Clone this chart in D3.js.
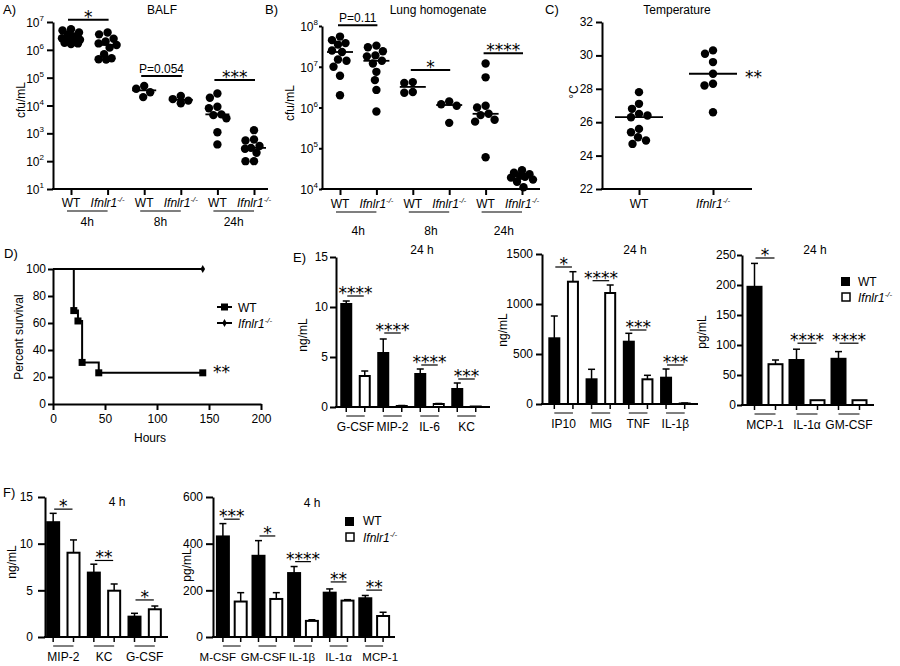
<!DOCTYPE html>
<html><head><meta charset="utf-8">
<script src="https://cdn.jsdelivr.net/npm/d3@7"></script>
<style>body{margin:0;background:#fff}svg{display:block}</style>
</head><body>
<script>
// ================= DATA =================
const dotGroups = ["WT 4h","KO 4h","WT 8h","KO 8h","WT 24h","KO 24h"];
const timeLabels = ["4h","8h","24h"];

// A) BALF cfu/mL
const balfWT4h  = [5.5e6,5.0e6,4.2e6,3.6e6,3.0e6,2.6e6,2.3e6,2.1e6,1.9e6,1.8e6,1.7e6,1.6e6];
const balfKO4h  = [4.2e6,3.6e6,2.5e6,2.0e6,1.7e6,1.5e6,1.2e6,7e5,5e5,4.6e5,4.5e5];
const balfWT8h  = [5.0e4,4.0e4,3.0e4,2.0e4];
const balfKO8h  = [2.2e4,1.7e4,1.5e4,1.2e4];
const balfWT24h = [2.7e4,1.9e4,9e3,8e3,4.8e3,4.5e3,3.5e3,1.1e3,4e2];
const balfKO24h = [1.3e3,6e2,5.5e2,3.5e2,3e2,2.8e2,2e2,1e2,1e2];
const balfTicks = [1e1,1e2,1e3,1e4,1e5,1e6,1e7];
const balfSigText  = ["*","P=0.054","***"];
const balfSigLevel = [1.2e7,1.15e5,8.3e4];

// B) Lung homogenate cfu/mL
const lungWT4h  = [5.5e7,4.5e7,3.8e7,3.5e7,2.5e7,2.3e7,1.5e7,1.4e7,1.0e7,6e6,2e6];
const lungKO4h  = [3.3e7,3.0e7,2.4e7,1.9e7,1.8e7,1.4e7,1.2e7,7.5e6,4.7e6,2.7e6,8e5];
const lungWT8h  = [4.2e6,4.0e6,2.4e6,2.3e6];
const lungKO8h  = [1.4e6,1.2e6,1.1e6,4.2e5];
const lungWT24h = [1.2e7,5.5e6,1.1e6,1.0e6,7e5,6.5e5,5e5,4.5e5,6e4];
const lungKO24h = [2.9e4,2.5e4,2.3e4,2.1e4,2.0e4,1.9e4,1.7e4,1.5e4,1.1e4];
const lungTicks = [1e4,1e5,1e6,1e7,1e8];
const lungSigText  = ["P=0.11","*","****"];
const lungSigLevel = [1.05e8,8.3e6,2.15e7];

// C) Temperature °C
const tempGroups = ["WT","KO"];
const tempWT = [27.8,27.1,26.8,26.5,26.4,26.3,25.6,25.4,25.1,24.9,24.7];
const tempKO = [30.3,30.1,29.6,28.9,28.3,28.2,26.6];
const tempTicks = [22,24,26,28,30,32];

// D) Survival
const survTimeWT = [0,20,24,28,44,144];
const survWT     = [100,69.2,61.5,30.8,23.1,23.1];
const survTimeKO = [0,144];
const survKO     = [100,100];
const survXTicks = [0,50,100,150,200];
const survYTicks = [0,20,40,60,80,100];

// E) 24 h cytokines
const e1Cats = ["G-CSF","MIP-2","IL-6","KC"];
const e1WT = [10.3,5.4,3.3,1.8];   const e1WTErr = [0.3,1.4,0.5,0.6];
const e1KO = [3.1,0.1,0.3,0.05];   const e1KOErr = [0.5,0.05,0.05,0];
const e1Sig = ["****","****","****","***"]; const e1SigLevel = [11.1,7.4,4.2,2.8];
const e1Ticks = [0,5,10,15];

const e2Cats = ["IP10","MIG","TNF","IL-1β"];
const e2WT = [657,247,623,263];    const e2WTErr = [223,100,84,87];
const e2KO = [1223,1110,247,5];    const e2KOErr = [100,80,40,5];
const e2Sig = ["*","****","***","***"]; const e2SigLevel = [1370,1233,740,390];
const e2Ticks = [0,500,1000,1500];

const e3Cats = ["MCP-1","IL-1α","GM-CSF"];
const e3WT = [197,75,77];          const e3WTErr = [39,18,12];
const e3KO = [68,8,8];             const e3KOErr = [7,0,0];
const e3Sig = ["*","****","****"]; const e3SigLevel = [245,103,103];
const e3Ticks = [0,50,100,150,200,250];

// F) 4 h cytokines
const f1Cats = ["MIP-2","KC","G-CSF"];
const f1WT = [12.3,6.9,2.18];      const f1WTErr = [0.95,0.9,0.36];
const f1KO = [9.03,4.96,2.97];     const f1KOErr = [1.37,0.72,0.35];
const f1Sig = ["*","**","*"];      const f1SigLevel = [13.7,8.2,3.97];
const f1Ticks = [0,5,10,15];

const f2Cats = ["M-CSF","GM-CSF","IL-1β","IL-1α","MCP-1"];
const f2WT = [431,348,274,190,166]; const f2WTErr = [55,65,28,16,12];
const f2KO = [152,163,69,156,90];   const f2KOErr = [38,27,5,4,16];
const f2Sig = ["***","*","****","**","**"]; const f2SigLevel = [505,433,323,236,201];
const f2Ticks = [0,200,400,600];

// ================= DRAW =================
const FONT = '"Liberation Sans", Arial, Helvetica, sans-serif';
const STARFONT = '"DejaVu Sans", sans-serif';
const svg = d3.select("body").append("svg").attr("width",900).attr("height",666)
  .style("font-family",FONT);

function label(x,y,s,size=12,anchor="start"){
  return svg.append("text").attr("x",x).attr("y",y).attr("font-size",size)
    .attr("text-anchor",anchor).attr("fill","#000").text(s);
}
function vlabel(cx,cy,s,size=12){
  return svg.append("text").attr("transform",`translate(${cx},${cy}) rotate(-90)`)
    .attr("text-anchor","middle").attr("dy","0.35em").attr("font-size",size).text(s);
}
function koLabel(x,y,anchor="middle",size=12){
  const t=svg.append("text").attr("x",x).attr("y",y).attr("font-size",size)
    .attr("text-anchor",anchor).attr("font-style","italic");
  t.append("tspan").text("Ifnlr1");
  t.append("tspan").attr("font-size",size*0.65).attr("dy",-size*0.4).text("-/-");
  return t;
}
function hline(x1,x2,y,w=1.5){
  svg.append("line").attr("x1",x1).attr("x2",x2).attr("y1",y).attr("y2",y)
    .attr("stroke","#000").attr("stroke-width",w);
}
function sig(x1,x2,yl,s,lw=1.5){
  hline(x1,x2,yl,lw);
  const star=/^\*+$/.test(s);
  svg.append("text").attr("x",(x1+x2)/2).attr("y",star?yl+3:yl-3)
    .attr("text-anchor","middle").attr("font-size",star?17:12)
    .style("font-family",star?STARFONT:FONT).text(s);
}
// beeswarm offsets limited to +-maxOff (dots may overlap when crowded)
function beeswarm(ys,minD,maxOff){
  const placed=[],offs=new Array(ys.length);
  const order=ys.map((y,i)=>i).sort((a,b)=>ys[a]-ys[b]);
  for(const i of order){
    let best=0,bestScore=-Infinity;
    for(let k=0;;k++){
      const c=(k%2===1?-1:1)*Math.ceil(k/2)*0.5;
      if(Math.abs(c)>maxOff)break;
      const md=placed.length?Math.min(...placed.map(p=>Math.hypot(p.x-c,p.y-ys[i]))):Infinity;
      if(md>=minD){best=c;break;}
      if(md>bestScore+0.3){bestScore=md;best=c;}
    }
    offs[i]=best;placed.push({x:best,y:ys[i]});
  }
  return offs;
}
function styleAxis(g){
  g.attr("font-size",12).attr("font-family",FONT);
  g.selectAll("path,line").attr("stroke-width",2);
}

function dotPanel(o){
  const y=o.y, x=d3.scalePoint().domain(o.groups).range(o.xRange);
  svg.append("g").attr("transform",`translate(${o.axisX},0)`)
    .call(d3.axisLeft(y).tickValues(o.ticks).tickSize(o.tickLen).tickSizeOuter(0).tickFormat(""))
    .call(styleAxis);
  hline(o.axisX-1,o.xEnd,o.y0,2);
  svg.append("g").attr("transform",`translate(0,${o.y0})`)
    .call(d3.axisBottom(x).tickSize(6).tickFormat(""))
    .call(g=>g.select(".domain").remove()).call(styleAxis);
  o.ticks.forEach(v=>o.tickLabel(v,y(v)));
  o.values.forEach((vals,i)=>{
    const cx=x(o.groups[i]);
    const offs=beeswarm(vals.map(v=>y(v)),8.4,o.maxOff);
    svg.append("g").selectAll("circle").data(vals).join("circle")
      .attr("cx",(d,j)=>cx+offs[j]).attr("cy",d=>y(d)).attr("r",4.2).attr("fill","#000");
    hline(cx-o.medHalf,cx+o.medHalf,y(d3.median(vals)),1.8);
  });
  return x;
}

function logTick(axisX,endGap){
  return (v,py)=>{
    const t=svg.append("text").attr("x",axisX-endGap).attr("y",py+5)
      .attr("text-anchor","end").attr("font-size",12);
    t.append("tspan").text("10");
    t.append("tspan").attr("font-size",8).attr("dy",-6).text(Math.round(Math.log10(v)));
  };
}

// ---- Panel A ----
label(3,14,"A)",13);
label(162,14,"BALF",12,"middle");
vlabel(21,100,"cfu/mL");
{
  const y=d3.scaleLog().domain([10,1e7]).range([189,22]);
  const x=dotPanel({y,groups:dotGroups,xRange:[71,254],axisX:53,xEnd:268,y0:189,
    ticks:balfTicks,tickLen:6,tickLabel:logTick(53,9),medHalf:12,maxOff:9,
    values:[balfWT4h,balfKO4h,balfWT8h,balfKO8h,balfWT24h,balfKO24h]});
  timeLabels.forEach((t,i)=>{
    const a=x(dotGroups[2*i]),b=x(dotGroups[2*i+1]);
    label(a,207,"WT",12,"middle"); koLabel(b,207);
    hline(a-4,b,211,1.2);
    label((a+b)/2-2,226,t,12,"middle");
    sig(a-3,b+1,y(balfSigLevel[i]),balfSigText[i],2);
  });
}

// ---- Panel B ----
label(265,14,"B)",13);
label(438,14,"Lung homogenate",12,"middle");
vlabel(290,103,"cfu/mL");
{
  const y=d3.scaleLog().domain([1e4,1e8]).range([189,26]);
  const x=dotPanel({y,groups:dotGroups,xRange:[340,522],axisX:322,xEnd:540,y0:189,
    ticks:lungTicks,tickLen:3,tickLabel:logTick(322,4),medHalf:13,maxOff:11,
    values:[lungWT4h,lungKO4h,lungWT8h,lungKO8h,lungWT24h,lungKO24h]});
  timeLabels.forEach((t,i)=>{
    const a=x(dotGroups[2*i]),b=x(dotGroups[2*i+1]);
    label(a,208,"WT",12,"middle"); koLabel(b,208);
    hline(a-4,b,212,1.2);
    label((a+b)/2,235,t,12,"middle");
    sig(a-2,b+1,y(lungSigLevel[i]),lungSigText[i],2);
  });
}

// ---- Panel C ----
label(545,14,"C)",13);
label(677,14,"Temperature",12,"middle");
vlabel(574,92,"°C");
{
  const y=d3.scaleLinear().domain([22,32]).range([189,22]);
  const x=dotPanel({y,groups:tempGroups,xRange:[639,713],axisX:602,xEnd:752,y0:189,
    ticks:tempTicks,tickLen:6,medHalf:24,maxOff:20,
    tickLabel:(v,py)=>label(593,py+4,String(v),12,"end"),
    values:[tempWT,tempKO]});
  label(x("WT"),208,"WT",12,"middle"); koLabel(x("KO"),208);
  svg.append("text").attr("x",745).attr("y",83).attr("font-size",17)
    .style("font-family",STARFONT).text("**");
}

// ---- Panel D ----
label(4,258,"D)",13);
vlabel(19,337,"Percent survival");
{
  const x=d3.scaleLinear().domain([0,200]).range([53,261]);
  const y=d3.scaleLinear().domain([0,100]).range([404,269]);
  svg.append("g").attr("transform","translate(0,404)")
    .call(d3.axisBottom(x).tickValues(survXTicks).tickSize(6).tickSizeOuter(0).tickPadding(4))
    .call(styleAxis);
  svg.append("g").attr("transform","translate(53,0)")
    .call(d3.axisLeft(y).tickValues(survYTicks).tickSize(5).tickSizeOuter(0).tickPadding(2))
    .call(styleAxis);
  label(150,442,"Hours",12,"middle");
  const line=d3.line().curve(d3.curveStepAfter).x(d=>x(d[0])).y(d=>y(d[1]));
  const wt=survTimeWT.map((t,i)=>[t,survWT[i]]);
  const ko=survTimeKO.map((t,i)=>[t,survKO[i]]);
  svg.append("path").attr("d",line(ko)).attr("fill","none").attr("stroke","#000").attr("stroke-width",2);
  svg.append("path").attr("d",line(wt)).attr("fill","none").attr("stroke","#000").attr("stroke-width",2);
  svg.append("g").selectAll("rect").data(wt.slice(1)).join("rect")
    .attr("x",d=>x(d[0])-3.5).attr("y",d=>y(d[1])-3.5).attr("width",7).attr("height",7);
  const dia=d3.symbol().type(d3.symbolDiamond).size(18);
  svg.append("path").attr("d",dia()).attr("transform",`translate(${x(144)},${y(100)})`);
  svg.append("text").attr("x",213).attr("y",378).attr("font-size",17)
    .style("font-family",STARFONT).text("**");
  // legend
  hline(217,232,307,2);
  svg.append("rect").attr("x",221).attr("y",303.5).attr("width",7).attr("height",7);
  label(238,312,"WT");
  hline(217,232,323,2);
  svg.append("path").attr("d",dia()).attr("transform","translate(224.5,323)");
  koLabel(238,328,"start");
}

// ---- bar panels ----
function barPanel(o){
  const y=d3.scaleLinear().domain([0,o.yMax]).range([o.y0,o.yTop]);
  const gx=d3.scaleBand().domain(o.cats).range(o.band);
  const sx=d3.scalePoint().domain(["WT","KO"]).range([0,gx.bandwidth()]).padding(0.5);
  svg.append("g").attr("transform",`translate(${o.axisX},0)`)
    .call(d3.axisLeft(y).tickValues(o.ticks).tickSize(o.tickLen).tickSizeOuter(0)
      .tickPadding(o.pad).tickFormat(d3.format("d")))
    .call(styleAxis);
  const rows=o.cats.flatMap((c,i)=>[
    {c,s:"WT",v:o.wt[i],e:o.wtErr[i]},{c,s:"KO",v:o.ko[i],e:o.koErr[i]}]);
  const cx=d=>gx(d.c)+sx(d.s);
  const eb=svg.append("g").attr("stroke","#000").attr("stroke-width",1.5);
  rows.filter(d=>d.e>0).forEach(d=>{
    eb.append("line").attr("x1",cx(d)).attr("x2",cx(d)).attr("y1",y(d.v)).attr("y2",y(d.v+d.e));
    eb.append("line").attr("x1",cx(d)-3.5).attr("x2",cx(d)+3.5).attr("y1",y(d.v+d.e)).attr("y2",y(d.v+d.e));
  });
  svg.append("g").selectAll("rect").data(rows).join("rect")
    .attr("x",d=>cx(d)-o.barW/2).attr("y",d=>y(d.v)).attr("width",o.barW)
    .attr("height",d=>Math.max(0,o.y0-y(d.v)))
    .attr("fill",d=>d.s==="WT"?"#000":"#fff").attr("stroke","#000").attr("stroke-width",2);
  hline(o.axisX-1,o.xEnd,o.y0,2);
  rows.forEach(d=>svg.append("line").attr("x1",cx(d)).attr("x2",cx(d))
    .attr("y1",o.y0).attr("y2",o.y0+5).attr("stroke","#000").attr("stroke-width",1.5));
  const shift=o.labelShift||o.cats.map(()=>0);
  o.cats.forEach((c,i)=>{
    const a=gx(c)+sx("WT"),b=gx(c)+sx("KO");
    hline(a,b,o.y0+9,1);
    label((a+b)/2+shift[i],o.y0+24,c,o.labelSize||12,"middle");
    sig(a+1,b-1,y(o.sigLevel[i]),o.sig[i],1.2);
  });
}

label(293,262,"E)",13);
label(422,254,"24 h",12,"middle");
vlabel(303,335,"ng/mL");
barPanel({cats:e1Cats,wt:e1WT,wtErr:e1WTErr,ko:e1KO,koErr:e1KOErr,sig:e1Sig,sigLevel:e1SigLevel,
  ticks:e1Ticks,yMax:15,y0:407,yTop:257,axisX:336,xEnd:490,band:[337,485],barW:10,tickLen:6,pad:2});

label(635,254,"24 h",12,"middle");
vlabel(503,330,"ng/mL");
barPanel({cats:e2Cats,wt:e2WT,wtErr:e2WTErr,ko:e2KO,koErr:e2KOErr,sig:e2Sig,sigLevel:e2SigLevel,
  ticks:e2Ticks,yMax:1500,y0:404,yTop:254,axisX:542,xEnd:698,band:[545,694],barW:10,tickLen:6,pad:3});

label(815,254,"24 h",12,"middle");
vlabel(702,332,"pg/mL");
barPanel({cats:e3Cats,wt:e3WT,wtErr:e3WTErr,ko:e3KO,koErr:e3KOErr,sig:e3Sig,sigLevel:e3SigLevel,
  ticks:e3Ticks,yMax:250,y0:405,yTop:255,axisX:742,xEnd:874,band:[744,870],barW:14,tickLen:5,pad:1});
svg.append("rect").attr("x",841).attr("y",277).attr("width",9).attr("height",9);
label(858,286,"WT");
svg.append("rect").attr("x",842).attr("y",293).attr("width",8).attr("height",8)
  .attr("fill","#fff").attr("stroke","#000").attr("stroke-width",1.5);
koLabel(858,302,"start");

label(3,497,"F)",13);
label(117,506,"4 h",12,"middle");
vlabel(12,562,"ng/mL");
barPanel({cats:f1Cats,wt:f1WT,wtErr:f1WTErr,ko:f1KO,koErr:f1KOErr,sig:f1Sig,sigLevel:f1SigLevel,
  ticks:f1Ticks,yMax:15,y0:637,yTop:497,axisX:45,xEnd:168,band:[43,165],barW:12,tickLen:7,pad:5});

label(312,507,"4 h",12,"middle");
vlabel(187,565,"pg/mL");
barPanel({cats:f2Cats,wt:f2WT,wtErr:f2WTErr,ko:f2KO,koErr:f2KOErr,sig:f2Sig,sigLevel:f2SigLevel,
  ticks:f2Ticks,yMax:600,y0:637,yTop:497,axisX:213,xEnd:395,band:[214,392],barW:12,tickLen:7,pad:3,
  labelSize:11.5,labelShift:[-14,-4,-1,0,6]});
svg.append("rect").attr("x",345).attr("y",517).attr("width",9).attr("height",9);
label(363,525,"WT");
svg.append("rect").attr("x",346).attr("y",533).attr("width",8).attr("height",8)
  .attr("fill","#fff").attr("stroke","#000").attr("stroke-width",1.5);
koLabel(363,542,"start");
</script>
</body></html>
